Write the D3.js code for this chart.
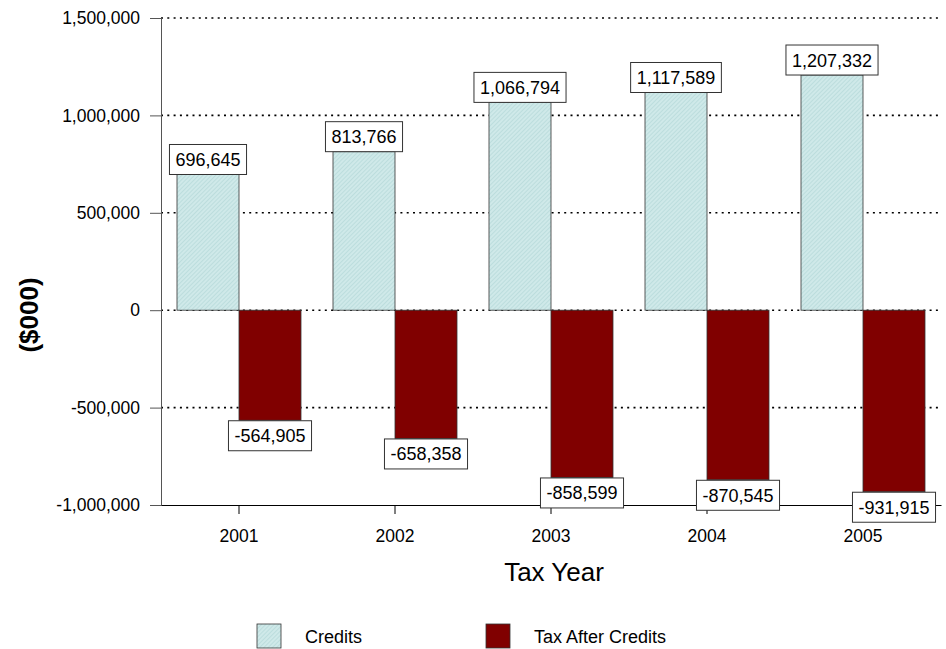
<!DOCTYPE html>
<html>
<head>
<meta charset="utf-8">
<script src="https://cdn.jsdelivr.net/npm/d3@7"></script>
<style>
  body { margin: 0; background: #fff; }
  text { font-family: Arial, "Liberation Sans", sans-serif; }
</style>
</head>
<body>
<div id="chart"></div>
<script>
let years = ["2001", "2002", "2003", "2004", "2005"]
let credits = [696645, 813766, 1066794, 1117589, 1207332]
let taxAfter = [-564905, -658358, -858599, -870545, -931915]
let yTicks = [-1000000, -500000, 0, 500000, 1000000, 1500000]
let seriesNames = ["Credits", "Tax After Credits"]

let width = 946, height = 649
let margin = { left: 161, right: 5, top: 18, bottom: 144 }

let svg = d3.select('#chart')
    .append('svg')
    .attr('width', width)
    .attr('height', height)

// hatch for the credits bars
let defs = svg.append('defs')
let pat = defs.append('pattern')
    .attr('id', 'hatch')
    .attr('patternUnits', 'userSpaceOnUse')
    .attr('width', 3)
    .attr('height', 3)
    .attr('patternTransform', 'rotate(45)')
pat.append('rect').attr('width', 3).attr('height', 3).attr('fill', '#cfe9e9')
pat.append('line')
    .attr('x1', 0).attr('y1', 0).attr('x2', 0).attr('y2', 3)
    .attr('stroke', '#a9d2d2').attr('stroke-width', 1)

let colors = ['url(#hatch)', '#800000']

let x = d3.scaleBand()
    .domain(years)
    .range([margin.left, width - margin.right])
    .paddingInner(0)

let y = d3.scaleLinear()
    .domain([-1000000, 1500000])
    .range([height - margin.bottom, margin.top])

let inner = 16
let barW = (x.bandwidth() - 2 * inner) / 2

// grid lines
svg.append('g')
    .selectAll('line')
    .data(yTicks.filter(d => d > -1000000))
    .join('line')
    .attr('x1', margin.left)
    .attr('x2', width - margin.right)
    .attr('y1', d => y(d))
    .attr('y2', d => y(d))
    .attr('stroke', '#000')
    .attr('stroke-width', 1.6)
    .attr('stroke-dasharray', '2,4.3')

let fmt = d3.formatLocale({ decimal: '.', thousands: ',', grouping: [3], currency: ['$', ''], minus: '-' }).format(',')

// bars
let rows = years.map((yr, i) => ({ year: yr, credits: credits[i], tax: taxAfter[i] }))

svg.append('g')
    .selectAll('rect')
    .data(rows)
    .join('rect')
    .attr('x', d => x(d.year) + inner)
    .attr('y', d => y(d.credits))
    .attr('width', barW)
    .attr('height', d => y(0) - y(d.credits))
    .attr('fill', colors[0])
    .attr('stroke', '#333')
    .attr('stroke-width', 0.8)

svg.append('g')
    .selectAll('rect')
    .data(rows)
    .join('rect')
    .attr('x', d => x(d.year) + inner + barW)
    .attr('y', y(0))
    .attr('width', barW)
    .attr('height', d => y(d.tax) - y(0))
    .attr('fill', colors[1])
    .attr('stroke', '#333')
    .attr('stroke-width', 0.8)

// axes
let yAxis = d3.axisLeft(y)
    .tickValues(yTicks)
    .tickFormat(fmt)
    .tickSize(11)
    .tickPadding(10)

let yg = svg.append('g')
    .attr('transform', `translate(${margin.left},0)`)
    .call(yAxis)
yg.select('.domain').attr('stroke', '#555')
yg.selectAll('.tick line').attr('stroke', '#555')
yg.selectAll('text').style('font-size', '17.5px').attr('fill', '#000')

let xAxis = d3.axisBottom(x)
    .tickSize(9)
    .tickSizeOuter(0)
    .tickPadding(16)

let xg = svg.append('g')
    .attr('transform', `translate(0,${y(-1000000)})`)
    .call(xAxis)
xg.select('.domain').attr('stroke', '#000')
xg.selectAll('.tick line').attr('stroke', '#000')
xg.selectAll('text').style('font-size', '17.5px').attr('fill', '#000')

// value labels
function addLabel(cx, v, above) {
    let g = svg.append('g')
    let t = g.append('text')
        .attr('x', cx)
        .attr('text-anchor', 'middle')
        .style('font-size', '18px')
        .text(fmt(v))
    let w = t.node().getComputedTextLength() + 12
    let h = 30
    let top = above ? y(v) - h : y(v) + 0.5
    g.insert('rect', 'text')
        .attr('x', cx - w / 2)
        .attr('y', top)
        .attr('width', w)
        .attr('height', h)
        .attr('fill', '#fff')
        .attr('stroke', '#333')
        .attr('stroke-width', 1)
    t.attr('y', top + h / 2 + 6.5)
}

rows.forEach(d => {
    addLabel(x(d.year) + inner + barW / 2, d.credits, true)
    addLabel(x(d.year) + inner + barW * 1.5, d.tax, false)
})

// titles
svg.append('text')
    .attr('transform', `translate(38,315) rotate(-90)`)
    .attr('text-anchor', 'middle')
    .style('font-size', '26px')
    .attr('font-weight', 'bold')
    .text('($000)')

svg.append('text')
    .attr('x', (margin.left + width - margin.right) / 2 + 3)
    .attr('y', 581)
    .attr('text-anchor', 'middle')
    .style('font-size', '26px')
    .text('Tax Year')

// legend
let legendX = [257, 486]
let legend = svg.append('g')
    .selectAll('g')
    .data(seriesNames)
    .join('g')
    .attr('transform', (d, i) => `translate(${legendX[i]},624)`)
legend.append('rect')
    .attr('width', 24)
    .attr('height', 24)
    .attr('fill', (d, i) => colors[i])
    .attr('stroke', '#333')
    .attr('stroke-width', 0.8)
legend.append('text')
    .attr('x', 48)
    .attr('y', 19)
    .style('font-size', '18px')
    .text(d => d)
</script>
</body>
</html>
